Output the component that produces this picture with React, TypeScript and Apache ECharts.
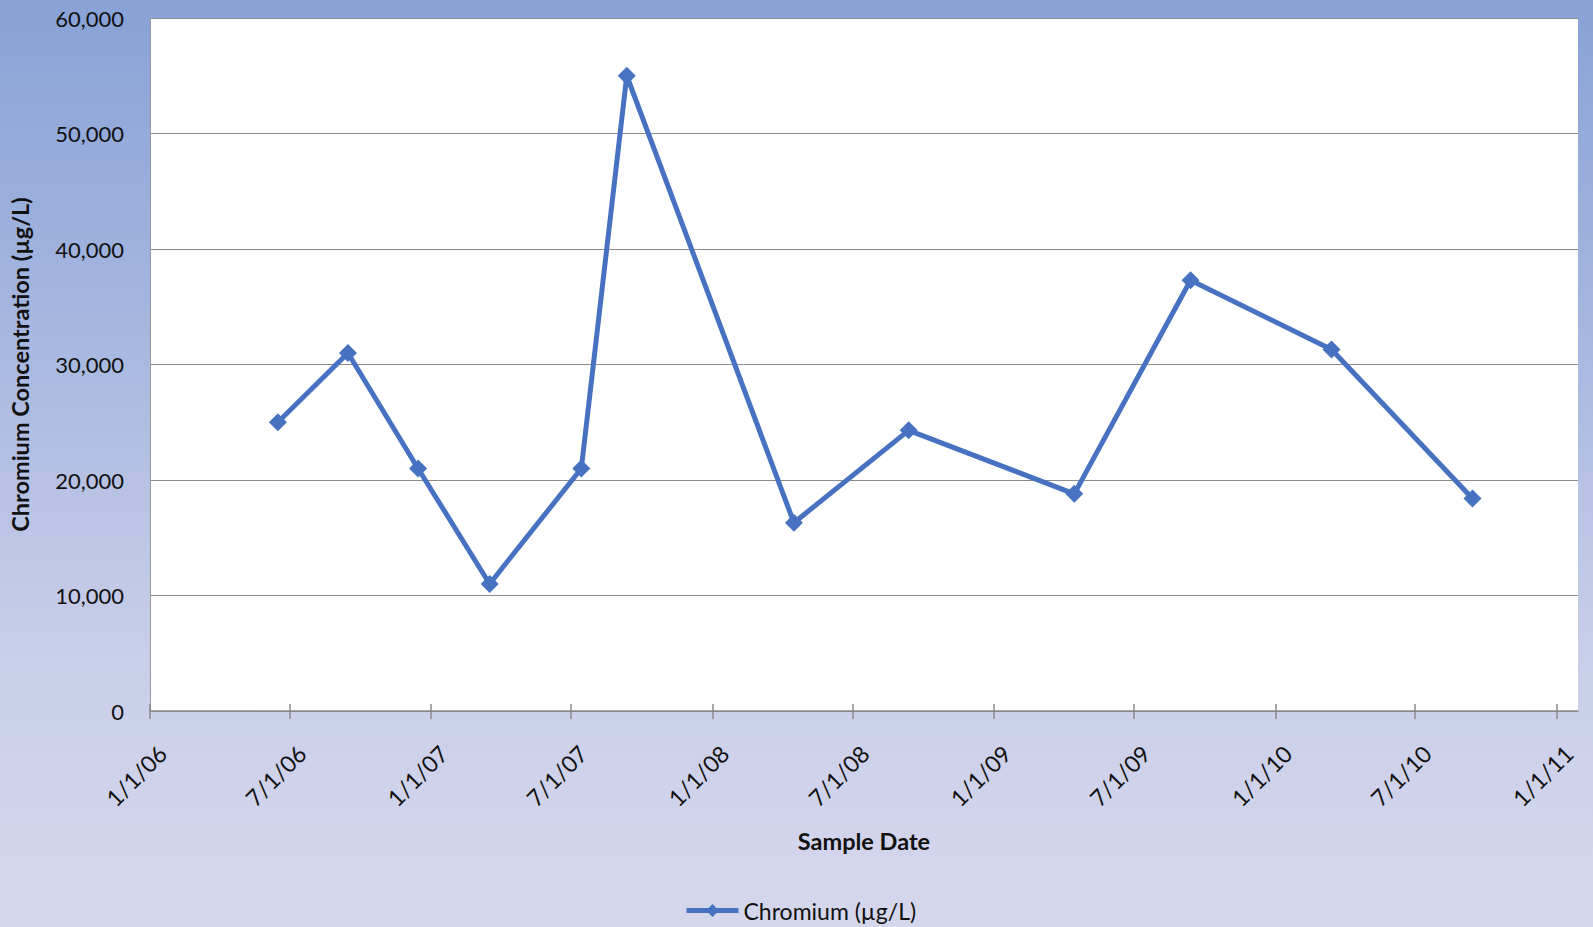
import React, { useEffect, useRef } from "react";
import * as echarts from "echarts";

// Sample dates (UTC) and chromium concentrations in µg/L
const sampleDates: string[] = [
  "2006-06-16", "2006-09-15", "2006-12-15", "2007-03-18",
  "2007-07-15", "2007-09-12", "2008-04-16", "2008-09-12",
  "2009-04-15", "2009-09-13", "2010-03-15", "2010-09-14",
];
const chromium: number[] = [
  25000, 31000, 21000, 11000,
  21000, 55000, 16300, 24300,
  18800, 37300, 31300, 18400,
];

// Date axis ticks every six months
const dateTicks: string[] = [
  "2006-01-01", "2006-07-01", "2007-01-01", "2007-07-01", "2008-01-01",
  "2008-07-01", "2009-01-01", "2009-07-01", "2010-01-01", "2010-07-01", "2011-01-01",
];
const axisStart = "2006-01-01";
const axisEnd = "2011-01-29";

const yTicks: number[] = [0, 10000, 20000, 30000, 40000, 50000, 60000];

const DAY = 86400000;
const toUTC = (s: string) => {
  const [y, m, d] = s.split("-").map(Number);
  return Date.UTC(y, m - 1, d);
};
const origin = toUTC(axisStart);
// position on the date axis, in days from the axis start
const toDay = (s: string) => Math.round((toUTC(s) - origin) / DAY);
const fmtDay = (v: number) => {
  const d = new Date(origin + Math.round(v) * DAY);
  return `${d.getUTCMonth() + 1}/${d.getUTCDate()}/${String(d.getUTCFullYear()).slice(2)}`;
};
const fmtNum = (v: number) => v.toLocaleString("en-US");

const FONT = "Lato, 'Open Sans', sans-serif";
const LINE_BLUE = "#4672c1";
const AXIS_GRAY = "#8a8a8a";

export default function App() {
  const ref = useRef<HTMLDivElement>(null);

  useEffect(() => {
    if (!ref.current) return;
    const chart = echarts.init(ref.current, undefined, { renderer: "svg" });
    const tickValues = dateTicks.map(toDay);
    const xMax = toDay(axisEnd);

    chart.setOption({
      animation: false,
      backgroundColor: {
        type: "linear",
        x: 0, y: 0, x2: 0, y2: 1,
        colorStops: [
          { offset: 0, color: "#88a2d7" },
          { offset: 0.35, color: "#a6b6df" },
          { offset: 0.7, color: "#c8cee9" },
          { offset: 1, color: "#d5d7ec" },
        ],
      },
      textStyle: { fontFamily: FONT, color: "#111" },
      grid: {
        left: 150, right: 15, top: 18, bottom: 216,
        show: true, backgroundColor: "#ffffff", borderWidth: 0,
      },
      legend: {
        left: 679, top: 894,
        itemWidth: 52, itemHeight: 16, itemGap: 10,
        lineStyle: { width: 5, color: LINE_BLUE },
        textStyle: { fontFamily: FONT, fontSize: 23, color: "#111" },
        data: ["Chromium (µg/L)"],
      },
      xAxis: [
        {
          type: "value",
          min: 0, max: xMax,
          name: "Sample Date",
          nameLocation: "middle",
          nameGap: 118,
          nameTextStyle: { fontFamily: FONT, fontSize: 23.5, fontWeight: "bold", color: "#111" },
          axisLine: { show: true, onZero: false, lineStyle: { color: AXIS_GRAY, width: 1.5 } },
          axisTick: {
            show: true, inside: false, length: 8,
            customValues: tickValues,
            lineStyle: { color: AXIS_GRAY, width: 1.5 },
          },
          axisLabel: {
            rotate: 45,
            fontSize: 23, fontFamily: FONT, color: "#111",
            margin: 26,
            verticalAlign: "top",
            padding: [6, 0, 0, 0],
            customValues: tickValues,
            formatter: (v: number) => fmtDay(v),
          },
          splitLine: { show: false },
        },
        {
          // inner half of the crossing tick marks
          type: "value",
          min: 0, max: xMax,
          position: "bottom",
          axisLine: { show: false, onZero: false },
          axisTick: {
            show: true, inside: true, length: 7,
            customValues: tickValues,
            lineStyle: { color: AXIS_GRAY, width: 1.5 },
          },
          axisLabel: { show: false },
          splitLine: { show: false },
        },
      ],
      yAxis: {
        type: "value",
        min: yTicks[0], max: yTicks[yTicks.length - 1], interval: 10000,
        name: "Chromium Concentration (µg/L)",
        nameLocation: "middle",
        nameGap: 118,
        nameTextStyle: { fontFamily: FONT, fontSize: 23.5, fontWeight: "bold", color: "#111" },
        axisLine: { show: true, lineStyle: { color: "#9a9a9a", width: 1 } },
        axisTick: { show: false },
        axisLabel: {
          fontSize: 22, fontFamily: FONT, color: "#111", margin: 26,
          formatter: (v: number) => fmtNum(v),
        },
        splitLine: { show: true, lineStyle: { color: "#8c8c8c", width: 1.2 } },
      },
      series: [
        {
          name: "Chromium (µg/L)",
          type: "line",
          xAxisIndex: 0,
          data: sampleDates.map((d, i) => [toDay(d), chromium[i]]),
          symbol: "diamond",
          symbolSize: 18,
          itemStyle: { color: LINE_BLUE },
          lineStyle: { color: LINE_BLUE, width: 5 },
        },
      ],
    });

    return () => chart.dispose();
  }, []);

  return (
    <div
      ref={ref}
      style={{ position: "absolute", left: 0, top: 0, width: 1593, height: 927 }}
    />
  );
}
